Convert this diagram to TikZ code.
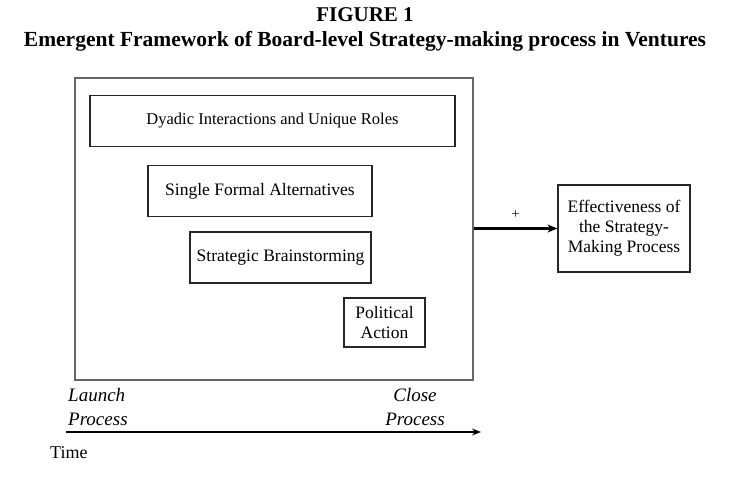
\documentclass[tikz,border=0pt]{standalone}
\usepackage{fontspec}
\setmainfont{Liberation Serif}
\usetikzlibrary{arrows.meta, positioning}
\tikzstyle{arrow} = [thick,->,>={Stealth[length=9pt,width=7pt]}]
\tikzstyle{phase} = [rectangle, minimum height=51pt, text centered, draw=black!85, line width=1.1pt, font=\fontsize{17.5}{20}\selectfont]
\tikzstyle{outcome} = [rectangle, minimum width=132pt, minimum height=87pt, text centered, align=center, draw=black!85, line width=1.1pt, font=\fontsize{17.5}{20}\selectfont]
\tikzstyle{label} = [inner sep=0pt, font=\fontsize{19}{24}\selectfont]

\begin{document}
\begin{tikzpicture}[x=1pt, y=1pt]
\useasboundingbox (0,0) rectangle (731,487);
% Title
\node (figNo) at (365,472) [font=\bfseries\fontsize{21}{24}\selectfont] {FIGURE 1};
\node (title) at (365,446) [font=\bfseries\fontsize{21.5}{24}\selectfont] {Emergent Framework of Board-level Strategy-making process in Ventures};

% Placement of nodes
\node (frame) at (274,258) [rectangle, draw=black!60, line width=1.1pt, minimum width=398pt, minimum height=302pt] {};
\node (dyadic) at (272.5,366) [phase, minimum width=365pt, font=\fontsize{16.5}{20}\selectfont] {Dyadic Interactions and Unique Roles};
\node (single) at (260,296) [phase, minimum width=224pt] {Single Formal Alternatives};
\node (brain) at (280.5,229.5) [phase, minimum width=181pt] {Strategic Brainstorming};
\node (politic) at (384.5,164.5) [phase, minimum width=81pt, minimum height=49pt, align=center] {Political\\Action};
\node (effect) at (624,258.5) [outcome] {Effectiveness of\\the Strategy-\\Making Process};

% Placement of edges
\draw [arrow, line width=2.2pt, >={Stealth[length=10pt,width=8pt]}] (frame.east |- effect.west) -- node[anchor=south, yshift=6pt, font=\fontsize{14}{16}\selectfont] {+} (effect.west);

% time axis
\coordinate (tStart) at (66,55);
\coordinate (tEnd) at (481,55);
\draw [arrow, line width=1.3pt] (tStart) -- (tEnd);
\node (launch) [label, align=left, anchor=south west] at (68,61) {\itshape Launch\\\itshape Process};
\node (close) [label, align=center, anchor=south] at (415,61) {\itshape Close\\\itshape Process};
\node (time) [label, anchor=west, font=\fontsize{18}{20}\selectfont] at (50,34) {Time};
\end{tikzpicture}
\end{document}
